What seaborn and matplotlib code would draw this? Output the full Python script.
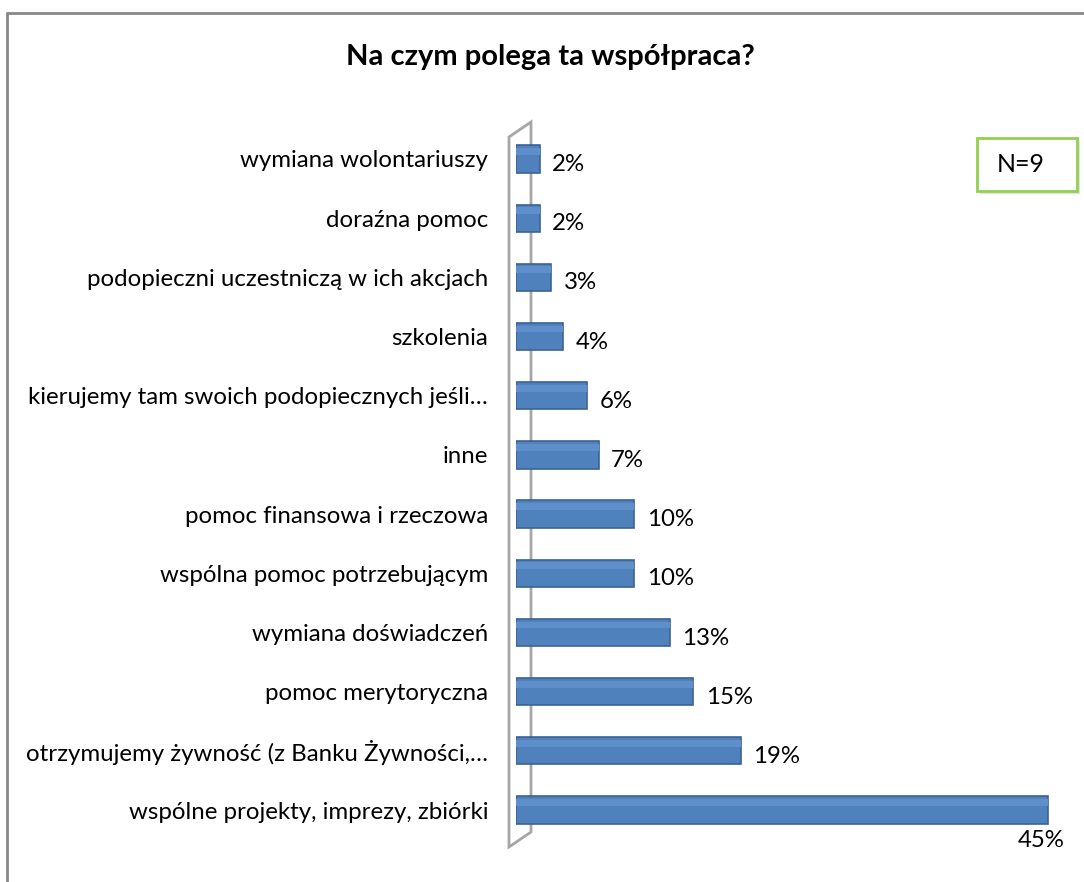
import matplotlib
matplotlib.use("Agg")
import matplotlib.pyplot as plt
from matplotlib.patches import Polygon, Rectangle
from matplotlib.lines import Line2D
import seaborn as sns

# Data
categories = [
    "wymiana wolontariuszy",
    "doraźna pomoc",
    "podopieczni uczestniczą w ich akcjach",
    "szkolenia",
    "kierujemy tam swoich podopiecznych jeśli…",
    "inne",
    "pomoc finansowa i rzeczowa",
    "wspólna pomoc potrzebującym",
    "wymiana doświadczeń",
    "pomoc merytoryczna",
    "otrzymujemy żywność (z Banku Żywności,…",
    "wspólne projekty, imprezy, zbiórki",
]
values = [2, 2, 3, 4, 6, 7, 10, 10, 13, 15, 19, 45]
title = "Na czym polega ta współpraca?"
note = "N=9"

W, H = 1084, 882
bar_color = "#4F81BD"
edge_color = "#3B6294"
font_size = 17.3

sns.set_style("white")
plt.rcParams["font.family"] = ["Lato", "DejaVu Sans"]
plt.rcParams["text.color"] = "black"


def fx(x):
    return x / W


def fy(y):
    return 1 - y / H


fig = plt.figure(figsize=(W / 100, H / 100), dpi=100)
fig.patch.set_facecolor("white")

# axes placed so the bars line up with the reference
x_max = 46
px_per_unit = 11.82
top_px, bottom_px = 129.4, 839.6
ax = fig.add_axes([fx(516), fy(bottom_px), x_max * px_per_unit / W, (bottom_px - top_px) / H])
ax.set_facecolor("none")

sns.barplot(x=values, y=categories, orient="h", color=bar_color, saturation=1,
            width=0.46, edgecolor=edge_color, linewidth=1.2, ax=ax, zorder=2)

ax.set_xlim(0, x_max)
ax.set_ylim(len(categories) - 0.5, -0.5)
ax.set_xlabel("")
ax.set_ylabel("")
ax.set_xticks([])
for s in ax.spines.values():
    s.set_visible(False)
ax.tick_params(axis="y", length=0, pad=20, labelsize=font_size, labelcolor="black")

# soft highlight strip on the bars (3D look)
for p in ax.patches:
    x0, y0 = p.get_x(), p.get_y()
    w, h = p.get_width(), p.get_height()
    ax.add_patch(Rectangle((x0, y0 + h * 0.1), w, h * 0.25, facecolor="#5F8FCB",
                           edgecolor="none", zorder=2.5))

# value labels
for i, v in enumerate(values):
    if v == max(values):
        ax.annotate(f"{v}%", xy=(v, i), xytext=(-5, -22), textcoords="offset points",
                    ha="center", va="center", fontsize=font_size)
    else:
        ax.annotate(f"{v}%", xy=(v, i), xytext=(9, -4), textcoords="offset points",
                    ha="left", va="center", fontsize=font_size)

# the thin 3D wall behind the bars
wall = Polygon([(fx(509), fy(137)), (fx(531), fy(122)), (fx(531), fy(832)), (fx(509), fy(847))],
               closed=True, transform=fig.transFigure, facecolor="white",
               edgecolor="#A6A6A6", linewidth=2, clip_on=False, zorder=1)
ax.add_patch(wall)

# title
fig.text(fx(550), fy(57), title, ha="center", va="center", fontsize=21, fontweight="bold")

# N=9 box
fig.add_artist(Rectangle((fx(980), fy(194)), 100 / W, 53 / H, transform=fig.transFigure,
                         facecolor="#E3E3E3", edgecolor="none", zorder=1))
fig.add_artist(Rectangle((fx(977), fy(191)), 100 / W, 53 / H, transform=fig.transFigure,
                         facecolor="white", edgecolor="#92D050", linewidth=2, zorder=2))
fig.text(fx(1021), fy(165), note, ha="center", va="center", fontsize=18, zorder=3)

# chart frame (cropped at right and bottom)
fig.add_artist(Line2D([fx(7), fx(7)], [fy(13), 0], transform=fig.transFigure,
                      color="#878787", linewidth=2))
fig.add_artist(Line2D([fx(7), 1], [fy(13), fy(13)], transform=fig.transFigure,
                      color="#878787", linewidth=2))

fig.savefig("out.png", dpi=100)
